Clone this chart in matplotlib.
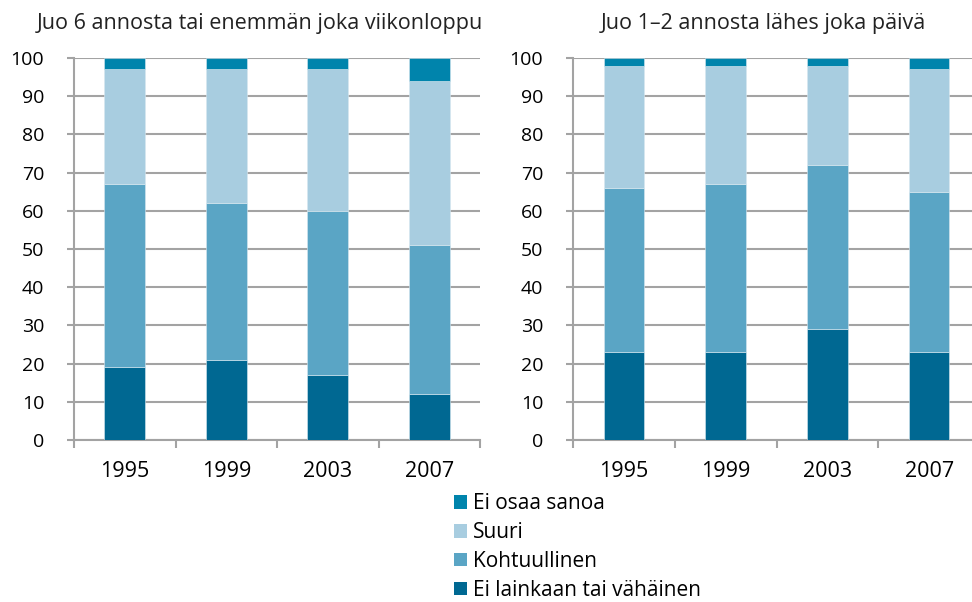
import numpy as np
import matplotlib
matplotlib.use("Agg")
import matplotlib.pyplot as plt
from matplotlib.patches import Patch

plt.rcParams['font.family'] = ['Open Sans', 'DejaVu Sans']

years = ['1995', '1999', '2003', '2007']
series_names = ['Ei lainkaan tai vähäinen', 'Kohtuullinen', 'Suuri', 'Ei osaa sanoa']
colors = ['#006892', '#5aa5c5', '#a8cde0', '#0084ac']

# Juo 6 annosta tai enemmän joka viikonloppu
weekend_none = [19, 21, 17, 12]
weekend_mid = [48, 41, 43, 39]
weekend_high = [30, 35, 37, 43]
weekend_dk = [3, 3, 3, 6]

# Juo 1–2 annosta lähes joka päivä
daily_none = [23, 23, 29, 23]
daily_mid = [43, 44, 43, 42]
daily_high = [32, 31, 26, 32]
daily_dk = [2, 2, 2, 3]

panels = [
    ('Juo 6 annosta tai enemmän joka viikonloppu', [weekend_none, weekend_mid, weekend_high, weekend_dk]),
    ('Juo 1–2 annosta lähes joka päivä', [daily_none, daily_mid, daily_high, daily_dk]),
]

W, H = 972, 602
fig = plt.figure(figsize=(W / 100, H / 100), dpi=100)

grid_col = '#a3a3a3'
axes_px = [(74, 480), (573, 980)]
y0_px, y100_px = 440, 58

for (title, data), (xl, xr) in zip(panels, axes_px):
    ax = fig.add_axes([xl / W, 1 - y0_px / H, (xr - xl) / W, (y0_px - y100_px) / H])
    x = np.arange(len(years))
    bottom = np.zeros(len(years))
    for vals, c in zip(data, colors):
        ax.bar(x, vals, width=0.4, bottom=bottom, color=c, edgecolor='#d8e8f0', linewidth=0.4, zorder=3)
        bottom += np.array(vals)
    ax.set_xlim(-0.5, len(years) - 0.5)
    ax.set_ylim(0, 100)
    ax.set_yticks(range(0, 101, 10))
    ax.yaxis.grid(True, color=grid_col, linewidth=1.5, zorder=0)
    ax.set_axisbelow(True)
    ax.set_xticks(x)
    ax.set_xticklabels(years)
    ax.set_xticks(np.arange(-0.5, len(years), 1.0), minor=True)
    ax.tick_params(axis='x', which='major', length=0, pad=15, labelsize=15.5)
    ax.tick_params(axis='x', which='minor', length=6, width=1.5, color=grid_col)
    ax.tick_params(axis='y', length=5, width=1.5, color=grid_col, labelsize=14, pad=16.5)
    for s in ['top', 'right']:
        ax.spines[s].set_visible(False)
    for s in ['left', 'bottom']:
        ax.spines[s].set_color(grid_col)
        ax.spines[s].set_linewidth(1.5)

fig.text(37 / W, 1 - 23 / H, panels[0][0], ha='left', va='center', fontsize=15.5, color='#222222')
fig.text(763 / W, 1 - 23 / H, panels[1][0], ha='center', va='center', fontsize=15.5, color='#222222')

handles = [Patch(facecolor=c, label=n) for n, c in zip(series_names, colors)][::-1]
fig.legend(handles=handles, loc='upper left', bbox_to_anchor=(446 / W, 1 - 485 / H),
           frameon=False, fontsize=15, handlelength=0.6, handleheight=0.6,
           handletextpad=0.3, labelspacing=0.38, borderaxespad=0)

fig.savefig('out.png', dpi=100)
